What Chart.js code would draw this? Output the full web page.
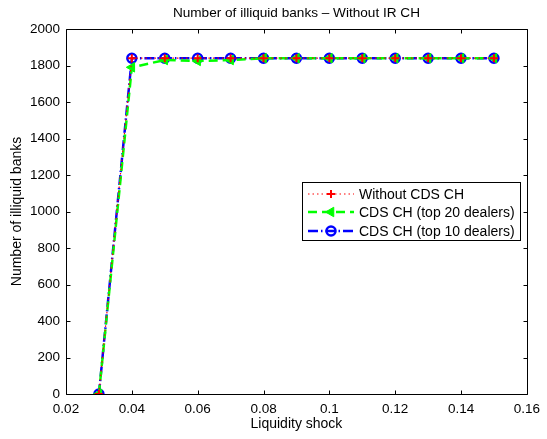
<!DOCTYPE html>
<html><head><meta charset="utf-8">
<script src="https://cdn.jsdelivr.net/npm/chart.js@4"></script>
<style>html,body{margin:0;padding:0;background:#fff}#wrap{width:547px;height:439px}</style>
</head><body><div id="wrap"><canvas id="c" width="547" height="439"></canvas></div>
<script>
const shocks = [0.03,0.04,0.05,0.06,0.07,0.08,0.09,0.10,0.11,0.12,0.13,0.14,0.15];
const withoutCDS = [0,1840,1840,1840,1840,1840,1840,1840,1840,1840,1840,1840,1840];
const cdsTop20 = [0,1790,1830,1825,1830,1840,1840,1840,1840,1840,1840,1840,1840];
const cdsTop10 = [0,1840,1840,1840,1840,1840,1840,1840,1840,1840,1840,1840,1840];
const seriesNames = ["Without CDS CH","CDS CH (top 20 dealers)","CDS CH (top 10 dealers)"];
const titleText = "Number of illiquid banks \u2013 Without IR CH";
const xTitle = "Liquidity shock";
const yTitle = "Number of illiquid banks";

const FONT = "'Liberation Sans', Arial, Helvetica, sans-serif";
const pts = a => shocks.map((x,i)=>({x:x,y:a[i]}));

const framePlugin = {
  id:'frame',
  afterDraw(chart){
    const {ctx, chartArea:a, scales:{x,y}} = chart;
    ctx.save();
    ctx.strokeStyle='#000'; ctx.lineWidth=1;
    ctx.beginPath();
    const L=Math.round(a.left)+0.5, R=Math.round(a.right)+0.5, T=Math.round(a.top)+0.5, B=Math.round(a.bottom)+0.5;
    ctx.rect(L,T,R-L,B-T); ctx.stroke();
    const tl=4;
    ctx.beginPath();
    x.ticks.forEach(t=>{const px=Math.round(x.getPixelForValue(t.value))+0.5; ctx.moveTo(px,B); ctx.lineTo(px,B-tl); ctx.moveTo(px,T); ctx.lineTo(px,T+tl);});
    y.ticks.forEach(t=>{const py=Math.round(y.getPixelForValue(t.value))+0.5; ctx.moveTo(L,py); ctx.lineTo(L+tl,py); ctx.moveTo(R,py); ctx.lineTo(R-tl,py);});
    ctx.stroke();
    // titles
    ctx.fillStyle='#000'; ctx.textAlign='center'; ctx.textBaseline='middle';
    ctx.font='13.6px '+FONT;
    ctx.fillText(titleText,(a.left+a.right)/2,13);
    ctx.font='14px '+FONT;
    ctx.fillText(xTitle,(a.left+a.right)/2,424);
    ctx.save(); ctx.translate(17,(a.top+a.bottom)/2); ctx.rotate(-Math.PI/2); ctx.fillText(yTitle,0,0); ctx.restore();
    // legend
    const bx=302.5, by=182.5, bw=218, bh=58;
    ctx.fillStyle='#fff'; ctx.fillRect(bx,by,bw,bh);
    ctx.strokeStyle='#000'; ctx.lineWidth=1; ctx.strokeRect(bx,by,bw,bh);
    const rows=[194,212,231];
    chart.data.datasets.forEach((ds,i)=>{
      const yy=rows[i];
      ctx.save();
      ctx.strokeStyle=ds.borderColor; ctx.lineWidth=ds.borderWidth; ctx.setLineDash(ds.borderDash||[]);
      ctx.beginPath(); ctx.moveTo(308,yy); ctx.lineTo(354,yy); ctx.stroke();
      ctx.setLineDash([]);
      ctx.fillStyle=ds.pointBackgroundColor; ctx.strokeStyle=ds.pointBorderColor; ctx.lineWidth=ds.pointBorderWidth;
      Chart.helpers.drawPoint(ctx,{pointStyle:ds.pointStyle,rotation:ds.pointRotation||0,radius:ds.pointRadius,borderWidth:ds.pointBorderWidth},331,yy);
      ctx.restore();
      ctx.fillStyle='#000'; ctx.font='14px '+FONT; ctx.textAlign='left'; ctx.textBaseline='middle';
      ctx.fillText(seriesNames[i],359,yy+1);
    });
    ctx.restore();
  }
};

new Chart(document.getElementById('c'),{
  type:'line',
  data:{datasets:[
    {label:seriesNames[0],data:pts(withoutCDS),borderColor:'#ff0000',borderWidth:1.2,borderDash:[1.5,3],
     pointStyle:'cross',pointRadius:4,pointBorderWidth:2,pointBorderColor:'#ff0000',pointBackgroundColor:'#ff0000',tension:0,fill:false},
    {label:seriesNames[1],data:pts(cdsTop20),borderColor:'#00ff00',borderWidth:2.5,borderDash:[9,5],
     pointStyle:'triangle',pointRotation:-90,pointRadius:5.5,pointBorderWidth:1,pointBorderColor:'#00ff00',pointBackgroundColor:'#00ff00',tension:0,fill:false},
    {label:seriesNames[2],data:pts(cdsTop10),borderColor:'#0000ff',borderWidth:2.5,borderDash:[10,3,1.5,3],
     pointStyle:'circle',pointRadius:4.5,pointBorderWidth:2.5,pointBorderColor:'#0000ff',pointBackgroundColor:'rgba(0,0,0,0)',tension:0,fill:false}
  ]},
  options:{
    responsive:false,animation:false,
    layout:{padding:{top:29,right:17,left:0,bottom:0}},
    plugins:{legend:{display:false},title:{display:false},tooltip:{enabled:false}},
    scales:{
      x:{type:'linear',min:0.02,max:0.16,
         grid:{display:false,drawTicks:false},border:{display:false},
         ticks:{stepSize:0.02,padding:7,color:'#000',font:{family:FONT,size:13.5},maxRotation:0,
                callback:v=>String(Number(v.toFixed(2)))},
         afterFit:s=>{s.height=45;}},
      y:{min:0,max:2000,
         grid:{display:false,drawTicks:false},border:{display:false},
         ticks:{stepSize:200,padding:6,color:'#000',font:{family:FONT,size:13.5},
                callback:v=>String(v)},
         afterFit:s=>{s.width=66;}}
    }
  },
  plugins:[framePlugin]
});
</script></body></html>
